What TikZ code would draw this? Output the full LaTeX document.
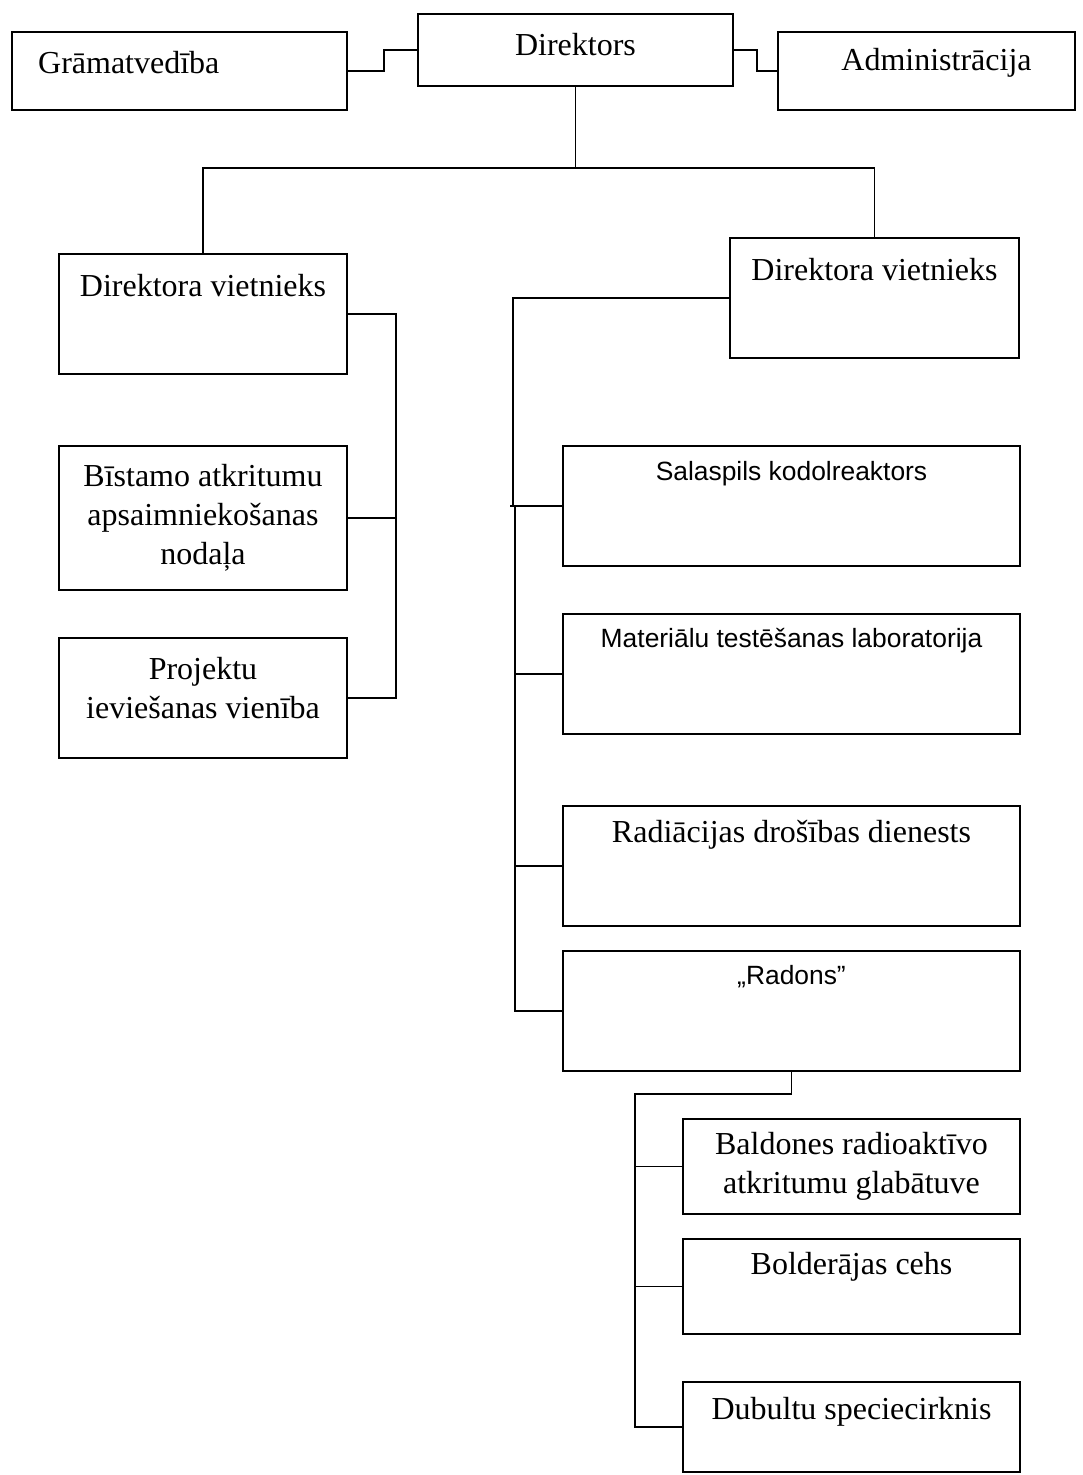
\documentclass[tikz,border=0pt]{standalone}
\usepackage{fontspec}
\setmainfont{Liberation Serif}
\newfontfamily\arialfont{Liberation Sans}
\usetikzlibrary{positioning}
\tikzset{
    unit/.style={draw, line width=0.9pt, rectangle, inner sep=0pt, align=center, font=\fontsize{16}{19.5}\selectfont},
    link/.style={line width=0.9pt},
    serif/.style={font=\fontsize{16}{19.5}\selectfont},
    sans/.style={font=\arialfont\fontsize{13.2}{16}\selectfont}
}

\begin{document}
\begin{tikzpicture}[x=0.5pt, y=-0.5pt]
    \useasboundingbox (0,0) rectangle (1082,1475);
    % top row
    \node[unit, minimum width=167.5pt, minimum height=39pt,
          label={[serif, anchor=west, xshift=10pt, yshift=4pt]west:Grāmatvedība}] (grm) at (179.5,71) {};
    \node[unit, minimum width=157.5pt, minimum height=36pt,
          label={[serif, yshift=2.5pt]center:Direktors}] (dir) at (575.5,50) {};
    \node[unit, minimum width=148.5pt, minimum height=39pt,
          label={[serif, xshift=5pt, yshift=4pt]center:Administrācija}] (adm) at (926.5,71) {};
    % left branch
    \node[unit, minimum width=144pt, minimum height=60pt,
          label={[serif, yshift=14pt]center:Direktora vietnieks}] (dvl) at (203,314) {};
    \node[unit, minimum width=144pt, minimum height=72pt] (bam) at (203,518)
          {Bīstamo atkritumu\\apsaimniekošanas\\nodaļa};
    \node[unit, minimum width=144pt, minimum height=60pt,
          label={[serif, align=center, yshift=5pt]center:{Projektu\\ieviešanas vienība}}] (piv) at (203,698) {};
    % right branch
    \node[unit, minimum width=144.5pt, minimum height=60pt,
          label={[serif, yshift=14pt]center:Direktora vietnieks}] (dvr) at (874.5,298) {};
    \node[unit, minimum width=228.5pt, minimum height=60pt,
          label={[sans, yshift=16pt]center:Salaspils kodolreaktors}] (slk) at (791.5,506) {};
    \node[unit, minimum width=228.5pt, minimum height=60pt,
          label={[sans, yshift=16.5pt]center:Materiālu testēšanas laboratorija}] (mtl) at (791.5,674) {};
    \node[unit, minimum width=228.5pt, minimum height=60pt,
          label={[serif, yshift=15.5pt]center:Radiācijas drošības dienests}] (rdd) at (791.5,866) {};
    \node[unit, minimum width=228.5pt, minimum height=60pt,
          label={[sans, yshift=17pt]center:„Radons”}] (rdn) at (791.5,1011) {};
    % Radons units
    \node[unit, minimum width=168.5pt, minimum height=47.5pt] (bld) at (851.5,1166.5)
          {Baldones radioaktīvo\\atkritumu glabātuve};
    \node[unit, minimum width=168.5pt, minimum height=47.5pt,
          label={[serif, yshift=10pt]center:Bolderājas cehs}] (bdr) at (851.5,1286.5) {};
    \node[unit, minimum width=168.5pt, minimum height=45pt,
          label={[serif, yshift=7.5pt]center:Dubultu speciecirknis}] (dbs) at (851.5,1427) {};

    % connectors
    \draw[link] (grm.east) -- ++(36,0) |- (dir.west);
    \draw[link] (dir.east) -- ++(23,0) |- (adm.west);
    \coordinate (hub) at (575.5,168);
    \draw[link] (dir.south) -- (hub);
    \draw[link] (dvl.north) |- (hub) -| (dvr.north);

    \draw[link] (dvl.east) -- ++(48,0) coordinate (lbus) |- (piv.east);
    \draw[link] (bam.east) -- (bam.east -| lbus);

    \coordinate (rbus) at (513,298);
    \draw[link] (dvr.west) -- (rbus) -- (rbus |- slk.west);
    \draw[link] ([xshift=-1.5pt]rbus |- slk.west) -- (slk.west);
    \coordinate (rbus2) at (515,506);
    \draw[link] (rbus2) |- (rdn.west);
    \foreach \n in {mtl, rdd}
        \draw[link] (\n.west) -- (\n.west -| rbus2);

    \coordinate (sbus) at (635,1094);
    \draw[link] (rdn.south) |- (sbus) |- (dbs.west);
    \foreach \n in {bld, bdr}
        \draw[link] (\n.west) -- (\n.west -| sbus);
\end{tikzpicture}
\end{document}
